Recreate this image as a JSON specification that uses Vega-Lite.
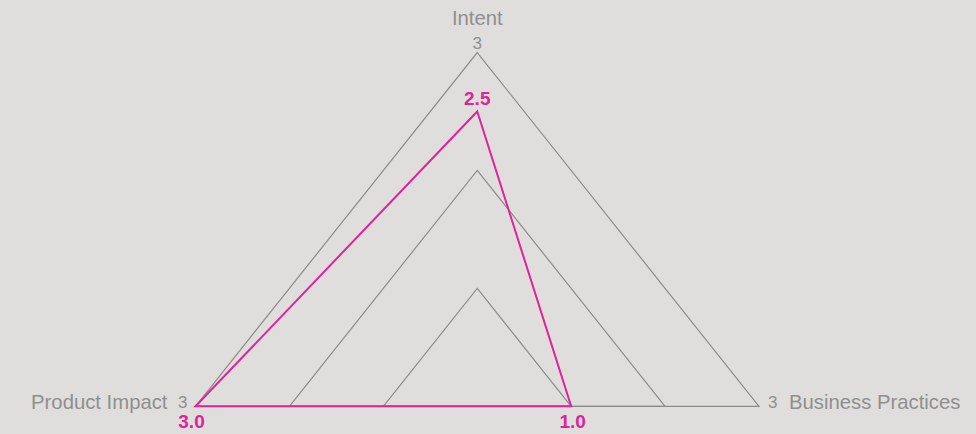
{
  "$schema": "https://vega.github.io/schema/vega-lite/v6.json",
  "width": 976,
  "height": 434,
  "autosize": "none",
  "padding": 0,
  "background": "#dfdedc",
  "config": {"view": {"stroke": null}, "text": {"font": "Liberation Sans"}},
  "datasets": {
    "scores": [
      {"axis": "Intent", "order": 0, "value": 2.5},
      {"axis": "Business Practices", "order": 1, "value": 1.0},
      {"axis": "Product Impact", "order": 2, "value": 3.0}
    ],
    "grid": [
      {"axis": "Intent", "order": 0, "value": 1},
      {"axis": "Business Practices", "order": 1, "value": 1},
      {"axis": "Product Impact", "order": 2, "value": 1},
      {"axis": "Intent", "order": 0, "value": 2},
      {"axis": "Business Practices", "order": 1, "value": 2},
      {"axis": "Product Impact", "order": 2, "value": 2},
      {"axis": "Intent", "order": 0, "value": 3},
      {"axis": "Business Practices", "order": 1, "value": 3},
      {"axis": "Product Impact", "order": 2, "value": 3}
    ]
  },
  "encoding": {
    "x": {"field": "px", "type": "quantitative", "axis": null, "scale": {"domain": [-5.0815, 5.3104], "nice": false, "zero": false}},
    "y": {"field": "py", "type": "quantitative", "axis": null, "scale": {"domain": [-0.2349, 3.4453], "nice": false, "zero": false}}
  },
  "layer": [
    {
      "data": {"name": "grid"},
      "transform": [
        {"calculate": "datum.axis === 'Intent' ? 0 : (datum.axis === 'Business Practices' ? datum.value : -datum.value)", "as": "px"},
        {"calculate": "datum.axis === 'Intent' ? datum.value : 0", "as": "py"}
      ],
      "layer": [
        {
          "mark": {"type": "line", "interpolate": "linear-closed", "stroke": "#8c8c8c", "strokeWidth": 1.2},
          "encoding": {"detail": {"field": "value"}, "order": {"field": "order"}}
        },
        {
          "transform": [{"filter": "datum.value === 3 && datum.axis === 'Intent'"}],
          "mark": {"type": "text", "fontSize": 20.3, "color": "#8f8f8f", "align": "center", "baseline": "alphabetic", "dy": -27.5},
          "encoding": {"text": {"field": "axis"}}
        },
        {
          "transform": [{"filter": "datum.value === 3 && datum.axis === 'Intent'"}],
          "mark": {"type": "text", "fontSize": 17, "color": "#8f8f8f", "align": "center", "baseline": "alphabetic", "dy": -4},
          "encoding": {"text": {"field": "value"}}
        },
        {
          "transform": [{"filter": "datum.value === 3 && datum.axis === 'Product Impact'"}],
          "mark": {"type": "text", "fontSize": 20.3, "color": "#8f8f8f", "align": "right", "baseline": "alphabetic", "dx": -28, "dy": 3},
          "encoding": {"text": {"field": "axis"}}
        },
        {
          "transform": [{"filter": "datum.value === 3 && datum.axis === 'Product Impact'"}],
          "mark": {"type": "text", "fontSize": 17, "color": "#8f8f8f", "align": "right", "baseline": "alphabetic", "dx": -8, "dy": 2},
          "encoding": {"text": {"field": "value"}}
        },
        {
          "transform": [{"filter": "datum.value === 3 && datum.axis === 'Business Practices'"}],
          "mark": {"type": "text", "fontSize": 17, "color": "#8f8f8f", "align": "left", "baseline": "alphabetic", "dx": 9, "dy": 2},
          "encoding": {"text": {"field": "value"}}
        },
        {
          "transform": [{"filter": "datum.value === 3 && datum.axis === 'Business Practices'"}],
          "mark": {"type": "text", "fontSize": 20.3, "color": "#8f8f8f", "align": "left", "baseline": "alphabetic", "dx": 30, "dy": 3},
          "encoding": {"text": {"field": "axis"}}
        }
      ]
    },
    {
      "data": {"name": "scores"},
      "transform": [
        {"calculate": "datum.axis === 'Intent' ? 0 : (datum.axis === 'Business Practices' ? datum.value : -datum.value)", "as": "px"},
        {"calculate": "datum.axis === 'Intent' ? datum.value : 0", "as": "py"}
      ],
      "layer": [
        {
          "mark": {"type": "line", "interpolate": "linear-closed", "stroke": "#e0229b", "strokeWidth": 2},
          "encoding": {"order": {"field": "order"}}
        },
        {
          "transform": [{"filter": "datum.axis === 'Intent'"}],
          "mark": {"type": "text", "fontSize": 19, "fontWeight": "bold", "color": "#e0229b", "align": "center", "baseline": "alphabetic", "dy": -6},
          "encoding": {"text": {"field": "value", "format": ".1f"}}
        },
        {
          "transform": [{"filter": "datum.axis === 'Product Impact'"}],
          "mark": {"type": "text", "fontSize": 19, "fontWeight": "bold", "color": "#e0229b", "align": "center", "baseline": "alphabetic", "dx": -4, "dy": 22},
          "encoding": {"text": {"field": "value", "format": ".1f"}}
        },
        {
          "transform": [{"filter": "datum.axis === 'Business Practices'"}],
          "mark": {"type": "text", "fontSize": 19, "fontWeight": "bold", "color": "#e0229b", "align": "center", "baseline": "alphabetic", "dx": 1.5, "dy": 22},
          "encoding": {"text": {"field": "value", "format": ".1f"}}
        }
      ]
    }
  ]
}
